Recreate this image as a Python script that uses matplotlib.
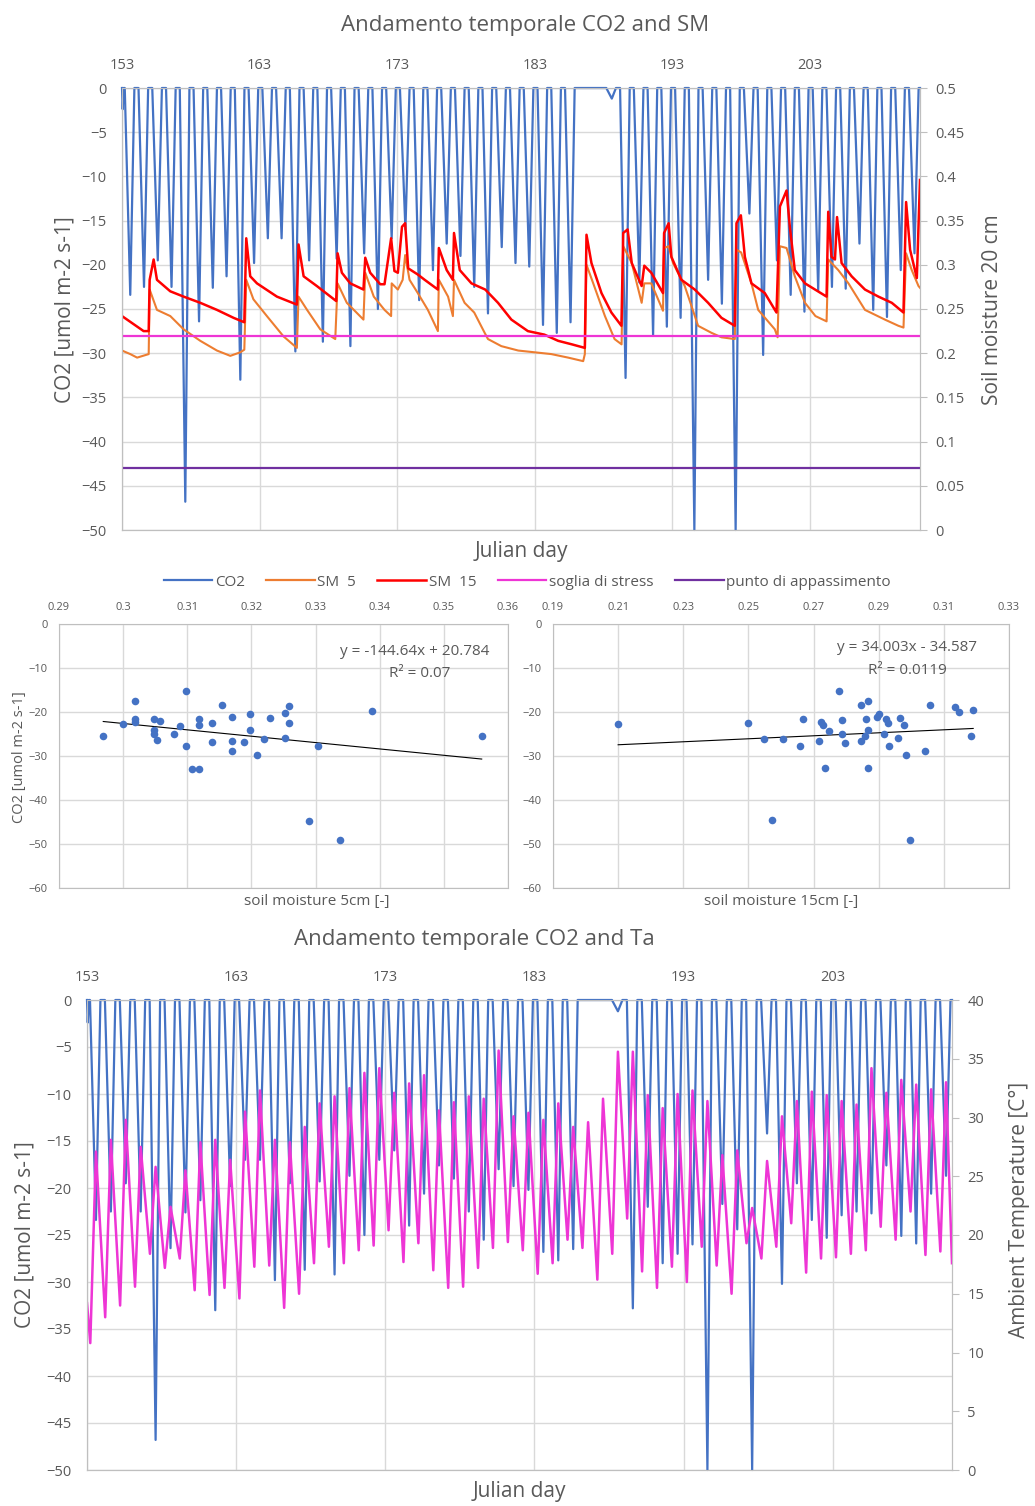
import numpy as np
import matplotlib
matplotlib.use('Agg')
import matplotlib.pyplot as plt
from matplotlib.lines import Line2D

plt.rcParams['font.family'] = ['Open Sans', 'DejaVu Sans']
GREY = '#595959'
GRID = '#D9D9D9'
BLUE = '#4472C4'
ORANGE = '#ED7D31'
RED = '#FF0000'
MAGENTA = '#EE35D5'
PURPLE = '#7030A0'

# ---- data ----
days = np.arange(153, 211)

# daily midday minimum of CO2 flux (night values are 0)
co2_min = [-23.4, -22.5, -19.5, -22.5, -46.8, -26.4, -22.6, -21.3, -33.0, -19.8,
           -17.0, -17.0, -29.8, -19.5, -28.7, -19.3, -29.2, -18.7, -25.0, -17.0,
           -16.0, -24.0, -20.6, -17.6, -19.0, -22.5, -25.5, -18.0, -19.8, -20.2,
           -26.8, -27.7, -26.5, 0.0, 0.0, -1.2, -32.8, -22.0, -28.0, -27.0,
           -26.0, -50.0, -21.7, -24.4, -50.0, -14.2, -30.2, -19.5, -23.4, -25.3,
           -22.9, -22.5, -22.7, -17.6, -25.1, -25.9, -20.6, -18.7]
co2_first = -2.4  # small dip right at the start of day 153

# ambient temperature: daily morning minimum and afternoon maximum
t_min = [10.8, 13.0, 14.0, 15.6, 18.4, 17.2, 18.0, 15.3, 14.9, 15.5,
         14.6, 17.3, 17.4, 13.8, 15.0, 17.6, 19.0, 17.6, 18.7, 19.1,
         20.4, 17.7, 19.3, 17.0, 15.5, 15.6, 17.2, 18.9, 19.4, 18.7,
         16.7, 17.6, 19.6, 18.9, 16.2, 18.4, 21.4, 16.9, 15.5, 17.3,
         16.0, 19.0, 17.4, 15.0, 19.3, 18.0, 19.0, 21.0, 16.8, 18.0,
         18.1, 18.4, 18.7, 20.7, 19.6, 22.0, 18.3, 18.6]
t_max = [27.1, 28.1, 29.8, 27.5, 25.8, 22.4, 25.5, 27.9, 28.1, 26.4,
         30.5, 32.3, 28.1, 27.9, 29.2, 31.2, 31.8, 32.5, 33.8, 34.2,
         32.1, 32.9, 33.6, 30.6, 31.3, 31.8, 31.6, 35.7, 30.1, 30.4,
         29.8, 31.2, 29.2, 29.6, 31.6, 35.6, 35.6, 31.9, 30.8, 32.0,
         32.3, 31.4, 26.8, 27.2, 22.3, 26.3, 30.1, 31.4, 32.2, 31.9,
         31.4, 31.1, 34.2, 32.1, 33.2, 32.8, 32.4, 33.0]
t_start, t_end = 14.2, 17.6

# soil moisture 5 cm (orange)
sm5_day = [153.0, 153.6, 154.1, 154.94, 155.01, 155.54, 156.51, 157.48, 158.69, 159.9,
           160.87, 161.6, 161.89, 162.03, 162.55, 163.53, 164.74, 165.71, 165.83, 166.45,
           167.41, 168.5, 168.67, 169.34, 170.55, 170.68, 171.3, 172.08, 172.56, 172.6,
           173.05, 173.4, 173.58, 173.9, 174.5, 175.23, 175.96, 176.03, 176.7, 177.05,
           177.13, 177.9, 178.6, 179.36, 179.6, 180.57, 181.8, 183.0, 184.2, 185.43,
           186.52, 186.64, 186.76, 187.25, 188.1, 188.8, 189.31, 189.43, 190.05, 190.77,
           190.96, 191.47, 192.32, 192.4, 192.73, 193.05, 193.9, 194.4, 194.87, 195.85,
           196.57, 197.54, 197.66, 198.0, 198.75, 199.24, 200.45, 200.65, 200.82, 201.3,
           201.9, 202.64, 203.4, 204.21, 204.33, 205.06, 205.8, 207.0, 208.45, 209.43,
           209.8, 209.99, 210.4, 210.89, 211.0]
sm5_val = [0.203, 0.199, 0.195, 0.199, 0.272, 0.249, 0.242, 0.227, 0.214, 0.203,
           0.197, 0.201, 0.204, 0.283, 0.261, 0.242, 0.219, 0.206, 0.264, 0.249,
           0.227, 0.216, 0.279, 0.257, 0.238, 0.291, 0.264, 0.249, 0.242, 0.279,
           0.272, 0.283, 0.311, 0.283, 0.268, 0.249, 0.225, 0.283, 0.264, 0.242,
           0.283, 0.257, 0.246, 0.223, 0.216, 0.208, 0.203, 0.201, 0.199, 0.195,
           0.191, 0.199, 0.300, 0.279, 0.242, 0.216, 0.210, 0.321, 0.302, 0.257,
           0.279, 0.279, 0.248, 0.319, 0.321, 0.302, 0.276, 0.253, 0.231, 0.223,
           0.218, 0.216, 0.317, 0.314, 0.279, 0.249, 0.227, 0.218, 0.321, 0.319,
           0.287, 0.257, 0.242, 0.236, 0.306, 0.294, 0.279, 0.249, 0.238, 0.231,
           0.229, 0.313, 0.294, 0.276, 0.274]

# soil moisture 15 cm (red)
sm15_day = [153.0, 154.57, 154.94, 155.01, 155.3, 155.54, 156.51, 157.48, 158.69, 159.9,
            161.11, 161.89, 162.03, 162.32, 162.81, 164.26, 165.71, 165.83, 166.2, 167.16,
            168.57, 168.67, 168.98, 169.59, 170.55, 170.68, 171.04, 171.77, 172.08, 172.56,
            172.8, 173.05, 173.35, 173.58, 173.8, 174.5, 175.0, 175.96, 176.03, 176.6,
            177.05, 177.13, 177.55, 178.4, 179.4, 180.33, 181.3, 182.5, 183.7, 184.7,
            185.7, 186.64, 186.76, 187.12, 187.85, 188.57, 189.3, 189.43, 189.75, 190.05,
            190.77, 190.96, 191.47, 192.32, 192.4, 192.73, 192.93, 193.66, 194.63, 195.6,
            196.57, 197.54, 197.66, 197.98, 198.27, 198.75, 199.72, 200.57, 200.82, 201.3,
            201.54, 201.9, 202.64, 204.21, 204.33, 204.57, 204.82, 204.97, 205.3, 206.03,
            207.0, 207.98, 208.95, 209.8, 209.99, 210.28, 210.77, 211.0]
sm15_val = [0.242, 0.225, 0.225, 0.283, 0.306, 0.283, 0.270, 0.264, 0.257, 0.249,
            0.240, 0.235, 0.330, 0.287, 0.279, 0.264, 0.255, 0.323, 0.287, 0.276,
            0.259, 0.313, 0.291, 0.279, 0.272, 0.308, 0.291, 0.278, 0.278, 0.330,
            0.293, 0.291, 0.343, 0.347, 0.296, 0.289, 0.283, 0.272, 0.319, 0.294,
            0.283, 0.336, 0.294, 0.279, 0.272, 0.257, 0.238, 0.225, 0.221, 0.214,
            0.210, 0.206, 0.334, 0.302, 0.268, 0.246, 0.231, 0.336, 0.340, 0.302,
            0.276, 0.299, 0.291, 0.268, 0.336, 0.347, 0.309, 0.283, 0.272, 0.257,
            0.240, 0.231, 0.347, 0.356, 0.309, 0.279, 0.268, 0.246, 0.366, 0.384,
            0.343, 0.294, 0.279, 0.264, 0.360, 0.309, 0.306, 0.354, 0.302, 0.287,
            0.272, 0.264, 0.257, 0.246, 0.371, 0.317, 0.285, 0.396]

stress_sm = 0.22
wilting_sm = 0.07

# scatter: daily CO2 minimum vs soil moisture
sc5_x = [0.2969, 0.2999, 0.3018, 0.3018, 0.3018, 0.3048, 0.3048, 0.3048, 0.3053, 0.3058,
         0.3079, 0.3089, 0.3098, 0.3098, 0.3108, 0.3118, 0.3118, 0.3118, 0.3138, 0.3138,
         0.3154, 0.3170, 0.3170, 0.3170, 0.3189, 0.3198, 0.3198, 0.3208, 0.3219, 0.3229,
         0.3253, 0.3253, 0.3259, 0.3259, 0.3289, 0.3304, 0.3338, 0.3388, 0.3559]
sc5_y = [-25.5, -22.8, -17.4, -21.5, -22.3, -21.5, -24.1, -25.0, -26.4, -22.0,
         -25.1, -23.2, -15.2, -27.7, -32.9, -32.9, -21.5, -23.0, -22.4, -26.9,
         -18.5, -21.1, -26.5, -28.9, -26.9, -20.4, -24.0, -29.8, -26.1, -21.4,
         -20.2, -25.9, -18.7, -22.6, -44.7, -27.7, -49.2, -19.7, -25.5]
sc15_x = [0.2100, 0.2499, 0.2549, 0.2573, 0.2607, 0.2657, 0.2668, 0.2717, 0.2723, 0.2728,
          0.2736, 0.2748, 0.2777, 0.2787, 0.2787, 0.2798, 0.2847, 0.2847, 0.2857, 0.2861,
          0.2866, 0.2867, 0.2867, 0.2894, 0.2902, 0.2916, 0.2922, 0.2927, 0.2933, 0.2958,
          0.2966, 0.2977, 0.2983, 0.2997, 0.3041, 0.3058, 0.3135, 0.3145, 0.3182, 0.3190]
sc15_y = [-22.7, -22.5, -26.1, -44.6, -26.1, -27.7, -21.7, -26.7, -22.3, -23.0,
          -32.7, -24.3, -15.2, -21.9, -24.9, -27.0, -18.4, -26.7, -25.4, -21.5,
          -24.1, -17.6, -32.7, -21.1, -20.4, -25.0, -21.5, -22.5, -27.7, -25.8,
          -21.4, -22.9, -29.7, -49.2, -28.9, -18.4, -18.9, -20.1, -25.4, -19.6]
fit5 = (-144.64, 20.784, '0.07')
fit15 = (34.003, -34.587, '0.0119')

# ---- build the time series ----
co2_x, co2_y = [153.0, 153.05, 153.12], [0.0, co2_first, 0.0]
for d, m in zip(days, co2_min):
    co2_x += [d + 0.2, d + 0.6, d + 0.9]
    co2_y += [0.0, m, 0.0]
co2_x.append(211.0)
co2_y.append(0.0)

ta_x, ta_y = [153.0], [t_start]
for d, lo, hi in zip(days, t_min, t_max):
    ta_x += [d + 0.22, d + 0.6]
    ta_y += [lo, hi]
ta_x.append(211.0)
ta_y.append(t_end)

# ---- layout ----
W, H = 1035, 1506
fig = plt.figure(figsize=(W / 100, H / 100), dpi=100)


def box(l, t, r, b):
    return [l / W, 1 - b / H, (r - l) / W, (b - t) / H]


def style(ax, size=10.5, pad=10):
    ax.grid(True, color=GRID, lw=1)
    ax.set_axisbelow(True)
    for s in ax.spines.values():
        s.set_color('#BFBFBF')
    ax.tick_params(colors=GREY, labelsize=size, length=0, pad=pad)


def time_axes(ax):
    ax.set_xlim(153, 211)
    ax.set_ylim(-50, 0)
    ax.set_xticks(np.arange(153, 211, 10))
    ax.set_yticks(np.arange(-50, 1, 5))
    ax.xaxis.tick_top()
    style(ax, 10.5, 11)


# top panel: CO2 and soil moisture
ax1 = fig.add_axes(box(122, 88, 920, 530))
time_axes(ax1)
ax1.plot(co2_x, co2_y, color=BLUE, lw=1.6, zorder=3, clip_on=False)
ax1r = ax1.twinx()
ax1r.set_ylim(0, 0.5)
ax1r.set_yticks(np.arange(0, 0.51, 0.05))
ax1r.set_yticklabels(['0', '0.05', '0.1', '0.15', '0.2', '0.25', '0.3', '0.35', '0.4', '0.45', '0.5'])
for s in ax1r.spines.values():
    s.set_color('#BFBFBF')
ax1r.tick_params(colors=GREY, labelsize=10.5, length=5, pad=6, color='#BFBFBF')
ax1r.plot(sm5_day, sm5_val, color=ORANGE, lw=1.5)
ax1r.plot(sm15_day, sm15_val, color=RED, lw=1.8)
ax1r.axhline(stress_sm, color=MAGENTA, lw=1.6)
ax1r.axhline(wilting_sm, color=PURPLE, lw=1.6)

fig.text(525 / W, 1 - 26 / H, 'Andamento temporale CO2 and SM', ha='center', va='center',
         fontsize=16, color=GREY)
fig.text(521 / W, 1 - 552 / H, 'Julian day', ha='center', va='center', fontsize=15, color=GREY)
fig.text(65 / W, 1 - 310 / H, 'CO2 [umol m-2 s-1]', ha='center', va='center', rotation=90,
         fontsize=15, color=GREY)
fig.text(993 / W, 1 - 310 / H, 'Soil moisture 20 cm', ha='center', va='center', rotation=90,
         fontsize=15, color=GREY)

handles = [Line2D([], [], color=BLUE, lw=1.6), Line2D([], [], color=ORANGE, lw=1.6),
           Line2D([], [], color=RED, lw=1.8), Line2D([], [], color=MAGENTA, lw=1.6),
           Line2D([], [], color=PURPLE, lw=1.6)]
labels = ['CO2', 'SM  5', 'SM  15', 'soglia di stress', 'punto di appassimento']
leg = fig.legend(handles, labels, loc='center', bbox_to_anchor=(527 / W, 1 - 582 / H), ncol=5,
                 frameon=False, fontsize=11, handlelength=3.2, handletextpad=0.15,
                 columnspacing=1.4)
for t in leg.get_texts():
    t.set_color(GREY)


# middle: scatter plots
def scatter_panel(ax, x, y, fit, xlim, xstep, xfmt):
    ax.set_xlim(*xlim)
    ax.set_ylim(-60, 0)
    ticks = np.arange(xlim[0], xlim[1] + 1e-9, xstep)
    ax.set_xticks(ticks)
    ax.set_xticklabels([xfmt(v) for v in ticks])
    ax.set_yticks(np.arange(-60, 1, 10))
    ax.xaxis.tick_top()
    style(ax, 8, 8)
    ax.scatter(x, y, s=30, color=BLUE, zorder=3, linewidths=0)
    xx = np.array([min(x), max(x)])
    ax.plot(xx, fit[0] * xx + fit[1], color='black', lw=0.8, zorder=2)


def fmt(v):
    return ('%.2f' % v).rstrip('0').rstrip('.')


axs1 = fig.add_axes(box(59, 624, 508, 888))
scatter_panel(axs1, sc5_x, sc5_y, fit5, (0.29, 0.36), 0.01, fmt)
axs2 = fig.add_axes(box(553, 624, 1009, 888))
scatter_panel(axs2, sc15_x, sc15_y, fit15, (0.19, 0.33), 0.02, fmt)

fig.text(415 / W, 1 - 651 / H, 'y = -144.64x + 20.784', ha='center', va='center', fontsize=11,
         color=GREY)
fig.text(420 / W, 1 - 673 / H, 'R² = ' + fit5[2], ha='center', va='center', fontsize=11,
         color=GREY)
fig.text(907 / W, 1 - 647 / H, 'y = 34.003x - 34.587', ha='center', va='center', fontsize=11,
         color=GREY)
fig.text(907 / W, 1 - 670 / H, 'R² = ' + fit15[2], ha='center', va='center', fontsize=11,
         color=GREY)
fig.text(20 / W, 1 - 757 / H, 'CO2 [umol m-2 s-1]', ha='center', va='center', rotation=90,
         fontsize=10.5, color=GREY)
fig.text(317 / W, 1 - 901 / H, 'soil moisture 5cm [-]', ha='center', va='center', fontsize=11,
         color=GREY)
fig.text(781 / W, 1 - 902 / H, 'soil moisture 15cm [-]', ha='center', va='center', fontsize=11,
         color=GREY)

# bottom panel: CO2 and ambient temperature
ax3 = fig.add_axes(box(87, 1000, 952, 1470))
time_axes(ax3)
ax3.plot(co2_x, co2_y, color=BLUE, lw=1.6, zorder=3, clip_on=False)
ax3r = ax3.twinx()
ax3r.set_ylim(0, 40)
ax3r.set_yticks(np.arange(0, 41, 5))
for s in ax3r.spines.values():
    s.set_color('#BFBFBF')
ax3r.tick_params(colors=GREY, labelsize=10.5, length=5, pad=6, color='#BFBFBF')
ax3r.plot(ta_x, ta_y, color=MAGENTA, lw=1.8)

fig.text(474 / W, 1 - 940 / H, 'Andamento temporale CO2 and Ta', ha='center', va='center',
         fontsize=16, color=GREY)
fig.text(519 / W, 1 - 1492 / H, 'Julian day', ha='center', va='center', fontsize=15, color=GREY)
fig.text(25 / W, 1 - 1235 / H, 'CO2 [umol m-2 s-1]', ha='center', va='center', rotation=90,
         fontsize=15, color=GREY)
fig.text(1020 / W, 1 - 1210 / H, 'Ambient Temperature [C°]', ha='center', va='center',
         rotation=90, fontsize=15, color=GREY)

fig.savefig('out.png', dpi=100)
